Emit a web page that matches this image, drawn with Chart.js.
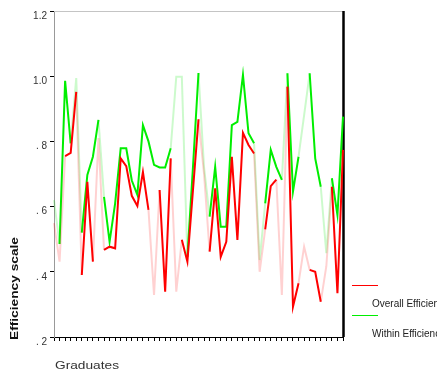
<!DOCTYPE html>
<html>
<head>
<meta charset="utf-8">
<script src="https://cdn.jsdelivr.net/npm/chart.js@4.4.1/dist/chart.umd.min.js"></script>
<style>
  html, body { margin: 0; padding: 0; background: #fff; }
  #wrap { width: 437px; height: 374px; position: relative; }
</style>
</head>
<body>
<div id="wrap"><canvas id="c" width="437" height="374"></canvas></div>
<script>
// ---- data ----
const categories = Array.from({ length: 53 }, (_, i) => 'Graduate ' + (i + 1));
const overallEfficiency = [
  0.549, 0.431, 0.755, 0.765, 0.952, 0.390, 0.676, 0.431, 0.810, 0.467,
  0.477, 0.472, 0.748, 0.724, 0.633, 0.602, 0.706, 0.590, 0.329, 0.651,
  0.339, 0.748, 0.339, 0.498, 0.431, 0.650, 0.868, 0.700, 0.462, 0.656,
  0.446, 0.492, 0.753, 0.498, 0.826, 0.789, 0.763, 0.400, 0.530, 0.663,
  0.683, 0.329, 0.968, 0.293, 0.365, 0.477, 0.406, 0.400, 0.308, 0.417,
  0.661, 0.334, 0.774
];
const withinEfficiency = [
  0.620, 0.485, 0.986, 0.794, 0.994, 0.520, 0.697, 0.753, 0.866, 0.630,
  0.492, 0.610, 0.779, 0.779, 0.680, 0.636, 0.850, 0.800, 0.728, 0.720,
  0.720, 0.779, 0.998, 0.998, 0.446, 0.720, 1.010, 0.720, 0.569, 0.722,
  0.538, 0.538, 0.850, 0.860, 1.004, 0.825, 0.794, 0.436, 0.610, 0.774,
  0.722, 0.682, 1.009, 0.646, 0.753, 0.880, 1.009, 0.748, 0.661, 0.457,
  0.687, 0.574, 0.876
];
const yTickValues = [0.2, 0.4, 0.6, 0.8, 1.0, 1.2];
const yTickLabels = ['. 2', '. 4', '. 6', '. 8', '1.0', '1.2'];
const seriesNames = ['Overall Efficiency', 'Within Efficiency'];
const xTitle = 'Graduates';
const yTitle = 'Efficiency scale';

// ---- style (segments drawn pale) ----
const paleOverall = [0, 1, 4, 7, 8, 17, 18, 21, 22, 26, 27, 36, 37, 40, 41, 44, 45, 48, 49];
const paleWithin = [0, 3, 4, 8, 21, 22, 23, 26, 27, 36, 37, 41, 44, 45, 48, 49];

const RED = '#ff0000', GREEN = '#00ee00';
const PALE_RED = 'rgba(255,0,0,0.18)', PALE_GREEN = 'rgba(0,230,0,0.2)';

const decorPlugin = {
  id: 'decor',
  beforeDatasetsDraw(chart) {
    const { ctx, chartArea: a } = chart;
    ctx.save();
    ctx.strokeStyle = '#c4c4c4';
    ctx.lineWidth = 1;
    ctx.beginPath();
    ctx.moveTo(a.left, a.top + 0.5);
    ctx.lineTo(a.right, a.top + 0.5);
    ctx.stroke();
    ctx.strokeStyle = '#000';
    ctx.lineWidth = 2.5;
    ctx.beginPath();
    ctx.moveTo(a.right + 0.5, a.top);
    ctx.lineTo(a.right + 0.5, a.bottom);
    ctx.stroke();
    ctx.restore();
  },
  afterDraw(chart) {
    const { ctx, chartArea: a } = chart;
    ctx.save();
    // y title
    ctx.fillStyle = '#111';
    ctx.font = 'bold 10px "Liberation Sans", Arial, sans-serif';
    ctx.textBaseline = 'middle';
    ctx.textAlign = 'left';
    ctx.translate(15, a.bottom + 3);
    ctx.rotate(-Math.PI / 2);
    const wy = ctx.measureText(yTitle).width;
    ctx.scale(103 / wy, 1);
    ctx.fillText(yTitle, 0, 0);
    ctx.restore();

    ctx.save();
    ctx.fillStyle = '#333';
    ctx.font = '11px "Liberation Sans", Arial, sans-serif';
    ctx.textBaseline = 'middle';
    ctx.textAlign = 'left';
    ctx.translate(a.left + 1, 366);
    const wx = ctx.measureText(xTitle).width;
    ctx.scale(64 / wx, 1);
    ctx.fillText(xTitle, 0, 0);
    ctx.restore();

    // legend
    ctx.save();
    const colors = [RED, GREEN];
    const lineY = [285.5, 315.5];
    const textY = [304, 334];
    ctx.font = '10px "Liberation Sans", Arial, sans-serif';
    ctx.textBaseline = 'middle';
    ctx.textAlign = 'left';
    seriesNames.forEach((name, k) => {
      ctx.strokeStyle = colors[k];
      ctx.lineWidth = 1;
      ctx.beginPath();
      ctx.moveTo(352, lineY[k]);
      ctx.lineTo(378, lineY[k]);
      ctx.stroke();
      ctx.fillStyle = '#222';
      ctx.fillText(name, 372, textY[k]);
    });
    ctx.restore();
  }
};

new Chart(document.getElementById('c'), {
  type: 'line',
  data: {
    labels: categories,
    datasets: [
      {
        label: seriesNames[0],
        data: overallEfficiency,
        borderColor: RED,
        borderWidth: 2,
        pointRadius: 0,
        tension: 0,
        segment: {
          borderColor: c => paleOverall.includes(c.p0DataIndex) ? PALE_RED : undefined
        }
      },
      {
        label: seriesNames[1],
        data: withinEfficiency,
        borderColor: GREEN,
        borderWidth: 2,
        pointRadius: 0,
        tension: 0,
        segment: {
          borderColor: c => paleWithin.includes(c.p0DataIndex) ? PALE_GREEN : undefined
        }
      }
    ]
  },
  options: {
    responsive: false,
    animation: false,
    devicePixelRatio: 1,
    layout: { padding: { top: 11, right: 94, left: 0, bottom: 0 } },
    plugins: { legend: { display: false }, tooltip: { enabled: false } },
    scales: {
      x: {
        type: 'category',
        offset: false,
        grid: { display: true, drawOnChartArea: false, drawTicks: true, tickLength: 4, color: '#000', offset: false },
        border: { display: true, color: '#000', width: 1 },
        ticks: { display: false, autoSkip: false },
        afterFit: s => { s.height = 37; }
      },
      y: {
        min: 0.2,
        max: 1.2,
        grid: { display: true, drawOnChartArea: false, drawTicks: true, tickLength: 4, color: '#000' },
        border: { display: true, color: '#999', width: 1 },
        afterBuildTicks: s => { s.ticks = yTickValues.map(v => ({ value: v })); },
        ticks: {
          padding: 3,
          labelOffset: 5,
          color: '#333',
          font: { family: '"Liberation Sans", Arial, sans-serif', size: 10 },
          callback: v => {
            const k = yTickValues.findIndex(t => Math.abs(t - v) < 1e-6);
            return k >= 0 ? yTickLabels[k] : '';
          }
        },
        afterFit: s => { s.width = 54; }
      }
    }
  },
  plugins: [decorPlugin]
});
</script>
</body>
</html>
